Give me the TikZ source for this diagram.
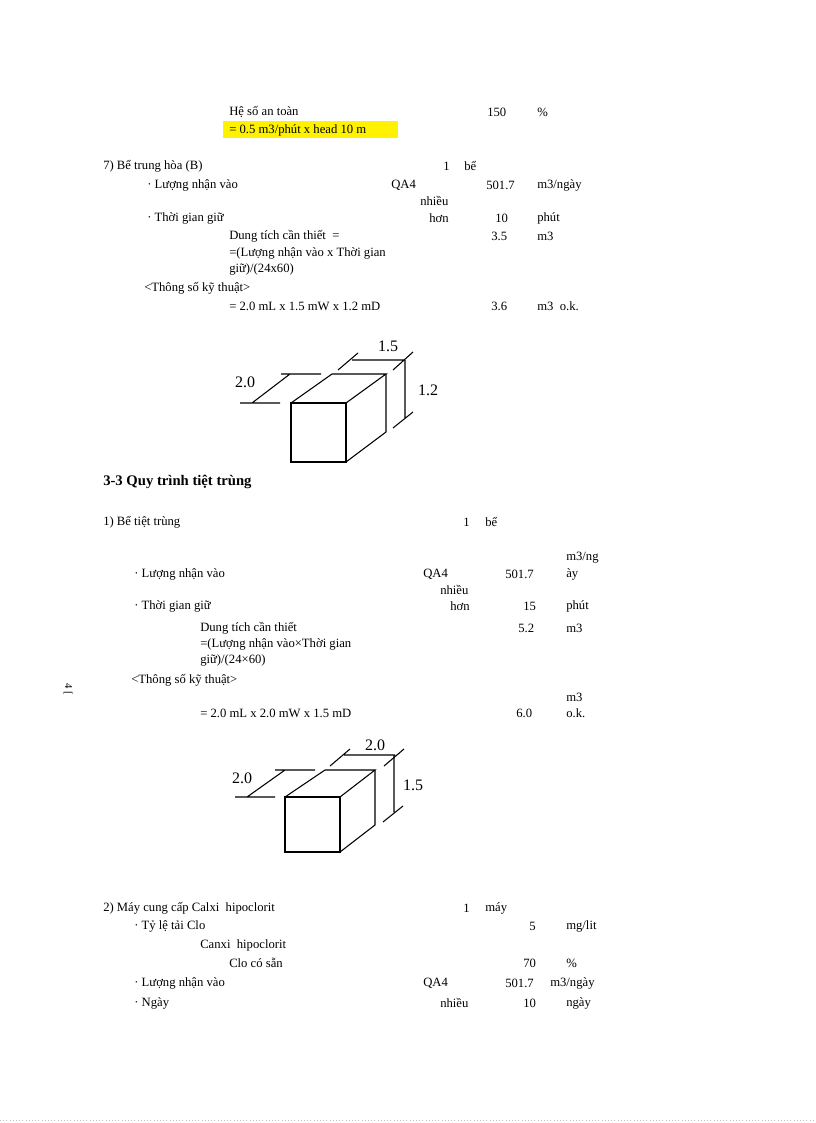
\documentclass[tikz,border=0pt]{standalone}
\usepackage{fontspec}
\setmainfont{Liberation Serif}
\begin{document}
\begin{tikzpicture}[x=0.75pt,y=-0.75pt,
  t/.style={anchor=west,inner sep=0pt,font=\fontsize{9.5}{11}\selectfont},
  tr/.style={anchor=east,inner sep=0pt,font=\fontsize{9.5}{11}\selectfont},
  dl/.style={inner sep=0pt,font=\fontsize{12}{14}\selectfont},
  ln/.style={line width=0.8pt}]
\useasboundingbox (0,0) rectangle (816,1123);
\fill[yellow] (223,121) rectangle (398,138);
% block 1
\node[t] (a1) at (229,112) {Hệ số an toàn};
\node[t] (a2) at (487,112) {150};
\node[t] (a3) at (537,112) {\%};
\node[t] (a4) at (229,130) {= 0.5 m3/phút x head 10 m};
\node[t] (b1) at (103,166) {7) Bể trung hòa (B)};
\node[t] (b2) at (443,166) {1};
\node[t] (b3) at (464,166) {bể};
\node[t] (c1) at (147,185) {· Lượng nhận vào};
\node[t] (c2) at (391,185) {QA4};
\node[t] (c3) at (486,185) {501.7};
\node[t] (c4) at (537,185) {m3/ngày};
\node[t] (c5) at (420,201) {nhiều};
\node[t] (d1) at (147,218) {· Thời gian giữ};
\node[t] (d2) at (429,218) {hơn};
\node[t] (d3) at (495,218) {10};
\node[t] (d4) at (537,218) {phút};
\node[t] (e1) at (229,236) {Dung tích cần thiết \ =};
\node[t] (e2) at (491,236) {3.5};
\node[t] (e3) at (537,236) {m3};
\node[t] (e4) at (229,253) {=(Lượng nhận vào x Thời gian};
\node[t] (e5) at (229,269) {giữ)/(24x60)};
\node[t] (f1) at (144,288) {<Thông số kỹ thuật>};
\node[t] (f2) at (229,306) {= 2.0 mL x 1.5 mW x 1.2 mD};
\node[t] (f3) at (491,306) {3.6};
\node[t] (f4) at (537,306) {m3 \ o.k.};
% box 1
\draw[ln] (291,403) rectangle (346,462);
\draw[ln] (291,403) -- (332,374) -- (386,374) -- (346,403);
\draw[ln] (386,374) -- (386,432) -- (346,462);
\draw[ln] (281,374) -- (321,374) (240,403) -- (280,403) (252,403) -- (290,374);
\draw[ln] (352,360) -- (405,360) (338,370) -- (358,353) (393,370) -- (413,352);
\draw[ln] (405,360) -- (405,418) (393,428) -- (413,412);
\node[dl] (l1) at (245,382) {2.0};
\node[dl] (l2) at (388,346) {1.5};
\node[dl] (l3) at (428,390) {1.2};
% section 3-3
\node[t,font=\bfseries\fontsize{11}{13}\selectfont] (s1) at (103,482) {3-3 Quy trình tiệt trùng};
\node[t] (g1) at (103,522) {1) Bể tiệt trùng};
\node[t] (g2) at (463,522) {1};
\node[t] (g3) at (485,522) {bể};
\node[t] (h0) at (566,558) {m3/ng};
\node[t] (h1) at (134,574) {· Lượng nhận vào};
\node[t] (h2) at (423,574) {QA4};
\node[t] (h3) at (505,574) {501.7};
\node[t] (h4) at (566,574) {ày};
\node[t] (h5) at (440,590) {nhiều};
\node[t] (i1) at (134,606) {· Thời gian giữ};
\node[t] (i2) at (450,606) {hơn};
\node[t] (i3) at (523,606) {15};
\node[t] (i4) at (566,606) {phút};
\node[t] (j1) at (200,628) {Dung tích cần thiết};
\node[t] (j2) at (518,628) {5.2};
\node[t] (j3) at (566,628) {m3};
\node[t] (j4) at (200,644) {=(Lượng nhận vào×Thời gian};
\node[t] (j5) at (200,660) {giữ)/(24×60)};
\node[t] (k1) at (131,680) {<Thông số kỹ thuật>};
\node[t] (k0) at (566,697) {m3};
\node[t] (k2) at (200,713) {= 2.0 mL x 2.0 mW x 1.5 mD};
\node[t] (k3) at (516,713) {6.0};
\node[t] (k4) at (566,713) {o.k.};
\node[rotate=-90,inner sep=0pt,font=\fontsize{8}{9}\selectfont] (m) at (68,689) {4 [};
% box 2
\draw[ln] (285,797) rectangle (340,852);
\draw[ln] (285,797) -- (325,770) -- (375,770) -- (340,797);
\draw[ln] (375,770) -- (375,825) -- (340,852);
\draw[ln] (275,770) -- (315,770) (235,797) -- (275,797) (247,797) -- (285,770);
\draw[ln] (344,755) -- (395,755) (330,766) -- (350,749) (384,766) -- (404,749);
\draw[ln] (394,755) -- (394,812) (383,822) -- (403,806);
\node[dl] (n1) at (242,778) {2.0};
\node[dl] (n2) at (375,745) {2.0};
\node[dl] (n3) at (413,785) {1.5};
% section 2
\node[t] (p1) at (103,908) {2) Máy cung cấp Calxi \ hipoclorit};
\node[t] (p2) at (463,908) {1};
\node[t] (p3) at (485,908) {máy};
\node[t] (q1) at (134,926) {· Tỷ lệ tải Clo};
\node[t] (q2) at (529,926) {5};
\node[t] (q3) at (566,926) {mg/lit};
\node[t] (r1) at (200,945) {Canxi \ hipoclorit};
\node[t] (r2) at (229,963) {Clo có sẵn};
\node[t] (r3) at (523,963) {70};
\node[t] (r4) at (566,963) {\%};
\node[t] (u1) at (134,983) {· Lượng nhận vào};
\node[t] (u2) at (423,983) {QA4};
\node[t] (u3) at (505,983) {501.7};
\node[t] (u4) at (550,983) {m3/ngày};
\node[t] (v1) at (134,1003) {· Ngày};
\node[t] (v2) at (440,1003) {nhiều};
\node[t] (v3) at (523,1003) {10};
\node[t] (v4) at (566,1003) {ngày};
\draw[gray!50,dotted] (0,1120) -- (816,1120);
\end{tikzpicture}
\end{document}
